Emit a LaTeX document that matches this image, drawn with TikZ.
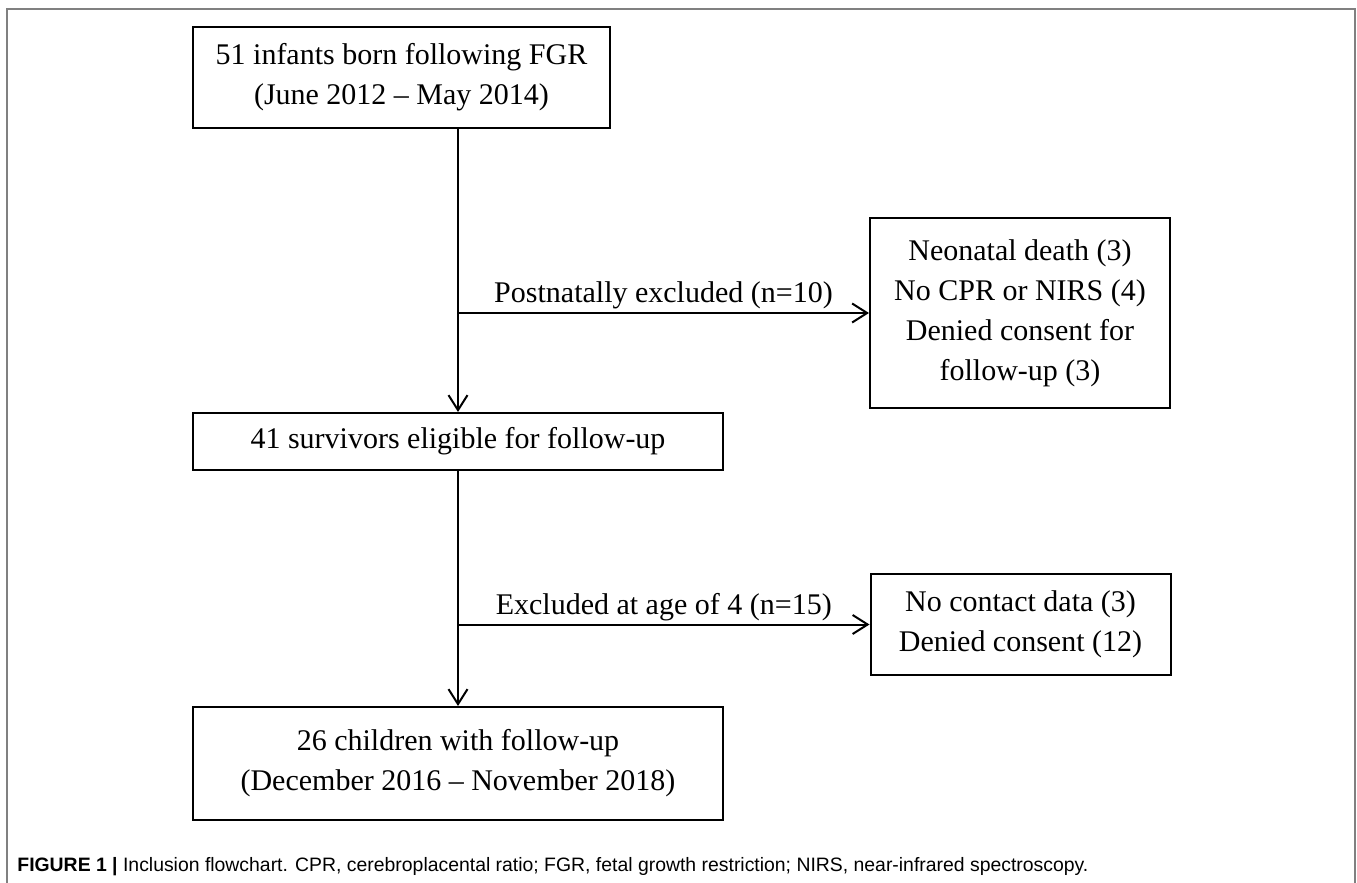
\documentclass[tikz,border=0pt]{standalone}
\usepackage{fontspec}
\setmainfont{Liberation Serif}
\newfontfamily\capfont{Liberation Sans}
\usetikzlibrary{arrows.meta}

\begin{document}
\begin{tikzpicture}[x=0.5pt,y=-0.5pt,
    box/.style={draw,line width=1pt,align=center,inner sep=0pt,font=\fontsize{15}{20}\selectfont},
    flow/.style={->,line width=1pt},
    flowlabel/.style={midway,above,inner sep=1.5pt,font=\fontsize{15}{20}\selectfont},
    >={Straight Barb[length=7.5pt,width=9.5pt]}]
        \useasboundingbox (0,0) rectangle (1357,883);
        %外枠
        \draw[line width=1pt,gray] (7,883)--(7,9)--(1355,9)--(1355,883);
        %主の箱
        \node[box,minimum width=208.5pt,minimum height=50.5pt] (born) at (401.5,77.5) {51 infants born following FGR\\(June 2012 -- May 2014)};
        \node[box,minimum width=265pt,minimum height=28.5pt] (eligible) at (458,441.5) {41 survivors eligible for follow-up};
        \node[box,minimum width=265pt,minimum height=56.5pt] (followup) at (458,763.5) {26 children with follow-up\\(December 2016 -- November 2018)};
        %除外の箱
        \node[box,minimum width=150pt,minimum height=95pt] (postnatal) at (1020,313) {Neonatal death (3)\\No CPR or NIRS (4)\\Denied consent for\\follow-up (3)};
        \node[box,minimum width=150pt,minimum height=50.5pt] (age4) at (1020.5,624.5) {No contact data (3)\\Denied consent (12)};
        %縦の矢印
        \draw[flow] (eligible.north |- born.south)--(eligible.north);
        \draw[flow] (eligible.south)--(followup.north);
        %横の矢印
        \coordinate (split1) at (eligible.north |- postnatal.west);
        \coordinate (split2) at (eligible.south |- age4.west);
        \draw[flow] (split1)--(postnatal.west) node[flowlabel]{Postnatally excluded (n=10)};
        \draw[flow] (split2)--(age4.west) node[flowlabel]{Excluded at age of 4 (n=15)};
        %図の説明
        \node[anchor=west,inner sep=0pt,font=\capfont\fontsize{9.7}{11}\selectfont] (caption) at (17,867) {\textbf{FIGURE 1 |} Inclusion flowchart. CPR, cerebroplacental ratio; FGR, fetal growth restriction; NIRS, near-infrared spectroscopy.};
    \end{tikzpicture}
\end{document}
